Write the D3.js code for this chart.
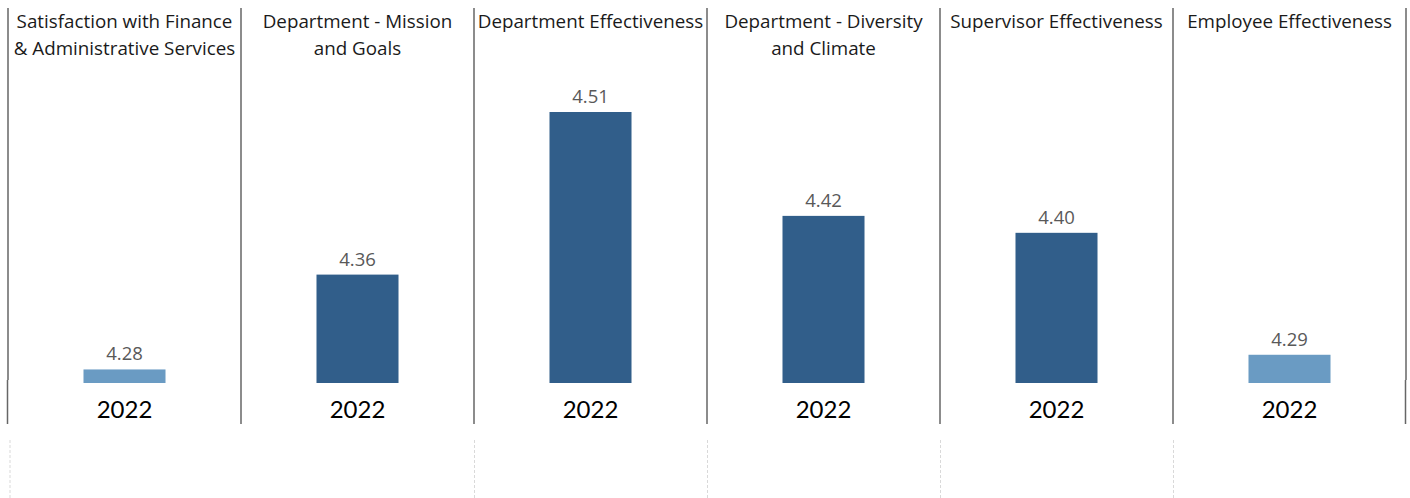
<!DOCTYPE html>
<html>
<head>
<meta charset="utf-8">
<script src="https://cdn.jsdelivr.net/npm/d3@7"></script>
<style>
body{margin:0;background:#fff;}
text{font-family:Lato,"Open Sans",sans-serif;}
</style>
</head>
<body>
<div id="container"></div>
<script>
// chart values
var categories = ["Satisfaction with Finance\n& Administrative Services","Department - Mission\nand Goals","Department Effectiveness","Department - Diversity\nand Climate","Supervisor Effectiveness","Employee Effectiveness"]
var values = [4.280,4.364,4.508,4.416,4.401,4.293]
var yearLabel = ["2022","2022","2022","2022","2022","2022"]
var barColors = ["#6a9bc3","#315e8a","#315e8a","#315e8a","#315e8a","#6a9bc3"]
var dashedAt = [0,2,3,4,5]

var width = 1410, height = 498
var svg = d3.select("#container").append("svg").attr("width",width).attr("height",height)

var xScale = d3.scaleBand().domain(categories).range([8,1406]).padding(0)
var yScale = d3.scaleLinear().domain([4.268,4.508]).range([383,112])
var barW = xScale.bandwidth()*0.352

// panel dividers
var edges = categories.map(function(d){return xScale(d)}).concat([1406])
edges.forEach(function(x,i){
    if(i==0 || i==edges.length-1){
        svg.append("line").attr("x1",x).attr("x2",x).attr("y1",8).attr("y2",380)
            .attr("stroke","#666").attr("stroke-width",1.5)
        svg.append("line").attr("x1",x-0.5).attr("x2",x-0.5).attr("y1",380).attr("y2",424)
            .attr("stroke","#666").attr("stroke-width",1.5)
    }else{
        svg.append("line").attr("x1",x).attr("x2",x).attr("y1",8).attr("y2",424)
            .attr("stroke","#666").attr("stroke-width",1.5)
    }
})

// faint dashed lines below
dashedAt.forEach(function(i){
    var x = i==0 ? 10 : edges[i]+0.5
    svg.append("line").attr("x1",x).attr("x2",x).attr("y1",440).attr("y2",498)
        .attr("stroke","#d9d9d9").attr("stroke-width",1).attr("stroke-dasharray","3,2")
})

var panels = svg.selectAll(".panel")
    .data(categories)
    .enter()
    .append("g")
    .attr("class","panel")

// titles
panels.each(function(d,i){
    var cx = xScale(d)+xScale.bandwidth()/2
    var t = d3.select(this).append("text")
        .attr("x",cx).attr("y",28)
        .attr("text-anchor","middle")
        .attr("font-size",18.8)
        .style("font-family","'Open Sans',sans-serif")
        .attr("fill","#1a1a1a")
    d.split("\n").forEach(function(line,j){
        t.append("tspan").attr("x",cx).attr("dy",j==0?0:27).text(line)
    })
})

// bars
panels.append("rect")
    .attr("x",function(d){return xScale(d)+xScale.bandwidth()/2-barW/2})
    .attr("y",function(d,i){return yScale(values[i])})
    .attr("width",barW)
    .attr("height",function(d,i){return yScale(yScale.domain()[0])-yScale(values[i])})
    .attr("fill",function(d,i){return barColors[i]})

// value labels
panels.append("text")
    .attr("x",function(d){return xScale(d)+xScale.bandwidth()/2})
    .attr("y",function(d,i){return yScale(values[i])-9})
    .attr("text-anchor","middle")
    .attr("font-size",18.5)
    .style("font-family","'Open Sans',sans-serif")
    .attr("fill","#595959")
    .text(function(d,i){return d3.format(".2f")(values[i])})

// year labels
panels.append("text")
    .attr("x",function(d){return xScale(d)+xScale.bandwidth()/2})
    .attr("y",418)
    .attr("text-anchor","middle")
    .attr("font-size",24)
    .attr("fill","#000")
    .text(function(d,i){return yearLabel[i]})
</script>
</body>
</html>
